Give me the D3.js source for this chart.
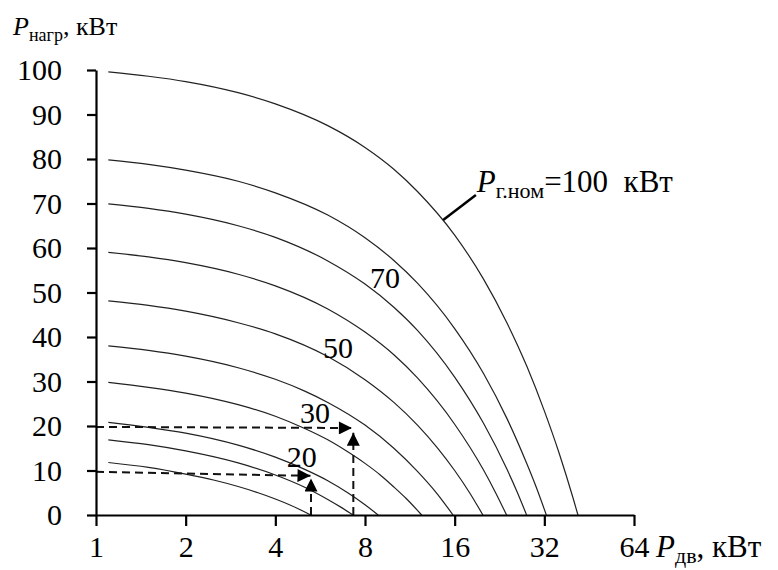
<!DOCTYPE html>
<html>
<head>
<meta charset="utf-8">
<script src="https://cdn.jsdelivr.net/npm/d3@7"></script>
<style>
  html, body { margin: 0; padding: 0; background: #fff; }
</style>
</head>
<body>
<svg id="chart" width="778" height="570"></svg>
<script>
// ---- data ----
const xTicks = [1, 2, 4, 8, 16, 32, 64];
const yTicks = [0, 10, 20, 30, 40, 50, 60, 70, 80, 90, 100];

// each curve: [x (P_дв, кВт), y (P_нагр, кВт)]
const curve100 = [[1.1,99.6],[1.5,98.6],[2,97.4],[3,94.9],[4,92.4],[6,87.5],[8,82.6],[10,77.7],[12,72.7],[16,62.9],[20,53.0],[24,43.1],[28,33.3],[32,23.4],[36,13.6],[40,3.7],[41.5,0]];
const curve80  = [[1.1,79.8],[1.5,78.8],[2,77.5],[3,75.0],[4,72.4],[6,67.4],[8,62.3],[10,57.2],[12,52.1],[16,41.9],[20,31.8],[24,21.6],[28,11.4],[30,6.4],[32.5,0]];
const curve70  = [[1.1,69.9],[1.5,68.9],[2,67.6],[3,65.0],[4,62.4],[6,57.1],[8,51.9],[10,46.7],[12,41.5],[16,31.0],[20,20.6],[24,10.2],[26,5.0],[27.9,0]];
const curve60  = [[1.1,59.0],[1.5,58.0],[2,56.7],[3,54.1],[4,51.5],[6,46.3],[8,41.1],[10,36.0],[12,30.8],[16,20.4],[20,10.1],[22,4.9],[23.9,0]];
const curve50  = [[1.1,48.1],[1.5,47.1],[2,45.8],[3,43.2],[4,40.7],[6,35.6],[8,30.4],[10,25.3],[12,20.2],[14,15.1],[16,10.0],[18,4.9],[19.9,0]];
const curve40  = [[1.1,38.0],[1.5,37.0],[2,35.7],[3,33.1],[4,30.5],[5,27.9],[6,25.3],[8,20.2],[10,15.0],[12,9.8],[14,4.7],[15.8,0]];
const curve30  = [[1.1,29.8],[1.5,28.7],[2,27.4],[3,24.8],[4,22.2],[5,19.5],[6,16.9],[7,14.2],[8,11.6],[9,9.0],[10,6.3],[11,3.7],[12.4,0]];
const curve20  = [[1.1,20.8],[1.5,19.7],[2,18.4],[3,15.7],[4,13.0],[5,10.3],[6,7.7],[7,5.0],[8,2.3],[8.86,0]];
const curve15  = [[1.1,16.9],[1.5,15.8],[2,14.4],[3,11.7],[4,9.0],[5,6.3],[6,3.5],[6.7,1.6],[7.29,0]];
const curve10  = [[1.1,11.8],[1.5,10.7],[2,9.2],[2.5,7.8],[3,6.4],[3.5,5.0],[4,3.6],[4.5,2.2],[5.26,0]];
const curves = [curve100, curve80, curve70, curve60, curve50, curve40, curve30, curve20, curve15, curve10];

// curve labels: text, x (left edge), y (baseline)
const curveLabels = [["70", 8.31, 51.0], ["50", 5.78, 35.3], ["30", 4.84, 20.7], ["20", 4.37, 10.8]];

// dashed guide arrows: [x1,y1,x2,y2] (arrow at the second point)
const guides = [
  [1, 19.8, 7.23, 19.55],
  [7.31, 0, 7.31, 18.5],
  [1, 9.7, 5.25, 8.8],
  [5.27, 0, 5.27, 8.2]
];

// leader for the 100 kW curve
const leader = [[14.64, 66.3], [18.85, 71.9]];

// ---- drawing ----
const FONT = "'Liberation Serif', serif";
const svg = d3.select("#chart");
const x = d3.scaleLog().base(2).domain([1, 64]).range([96, 634]);
const y = d3.scaleLinear().domain([0, 100]).range([515, 70]);

const defs = svg.append("defs");
defs.append("marker")
  .attr("id", "arr")
  .attr("viewBox", "0 0 14 14")
  .attr("refX", 14).attr("refY", 7)
  .attr("markerWidth", 14).attr("markerHeight", 13)
  .attr("markerUnits", "userSpaceOnUse")
  .attr("orient", "auto")
  .append("path").attr("d", "M0,0 L14,7 L0,14 Z").attr("fill", "#000");

// curves
const line = d3.line().x(d => x(d[0])).y(d => y(d[1])).curve(d3.curveMonotoneX);
svg.append("g").selectAll("path").data(curves).join("path")
  .attr("d", line)
  .attr("fill", "none")
  .attr("stroke", "#222")
  .attr("stroke-width", 1.2);

// guides
svg.append("g").selectAll("line").data(guides).join("line")
  .attr("x1", d => x(d[0])).attr("y1", d => y(d[1]))
  .attr("x2", d => x(d[2])).attr("y2", d => y(d[3]))
  .attr("stroke", "#111")
  .attr("stroke-width", 2)
  .attr("stroke-dasharray", "8,5")
  .attr("marker-end", "url(#arr)");

// axes
const yAxis = d3.axisLeft(y).tickValues(yTicks).tickSize(9).tickSizeOuter(0).tickPadding(25).tickFormat(d3.format("d"));
const gy = svg.append("g").attr("transform", "translate(96,0)").call(yAxis);
const xAxis = d3.axisBottom(x).tickValues(xTicks).tickSize(11).tickSizeOuter(0).tickPadding(10).tickFormat(d3.format("d"));
const gx = svg.append("g").attr("transform", "translate(0,515)").call(xAxis);
[gx, gy].forEach(g => {
  g.attr("font-family", null).attr("font-size", null);
  g.selectAll("path.domain").attr("stroke", "#000").attr("stroke-width", 2.2);
  g.selectAll(".tick line").attr("stroke", "#000").attr("stroke-width", 2.2);
  g.selectAll(".tick text").attr("fill", "#000")
    .style("font-family", FONT)
    .style("font-size", "30px");
});

// curve labels
svg.append("g").selectAll("text").data(curveLabels).join("text")
  .attr("x", d => x(d[1])).attr("y", d => y(d[2]))
  .style("font-family", FONT).style("font-size", "30px").attr("fill", "#000")
  .text(d => d[0]);

// leader & 100 kW label
svg.append("line")
  .attr("x1", x(leader[0][0])).attr("y1", y(leader[0][1]))
  .attr("x2", x(leader[1][0])).attr("y2", y(leader[1][1]))
  .attr("stroke", "#000").attr("stroke-width", 2.5);

const lab = svg.append("text").attr("x", x(leader[1][0]) + 1).attr("y", 192)
  .style("font-family", FONT).style("font-size", "31px").attr("fill", "#000");
lab.append("tspan").style("font-style", "italic").text("P");
lab.append("tspan").style("font-size", "22px").attr("dy", 6).text("г.ном");
lab.append("tspan").attr("dy", -6).text("=100\u2002кВт");

// axis titles
const ty = svg.append("text").attr("x", 13).attr("y", 35)
  .style("font-family", FONT).style("font-size", "26px").attr("fill", "#000");
ty.append("tspan").style("font-style", "italic").text("P");
ty.append("tspan").style("font-size", "18px").attr("dy", 6).text("нагр");
ty.append("tspan").attr("dy", -6).text(", кВт");

const tx = svg.append("text").attr("x", 656).attr("y", 557)
  .style("font-family", FONT).style("font-size", "31px").attr("fill", "#000");
tx.append("tspan").style("font-style", "italic").text("P");
tx.append("tspan").style("font-size", "22px").attr("dy", 6).text("дв");
tx.append("tspan").attr("dy", -6).text(", кВт");
</script>
</body>
</html>
